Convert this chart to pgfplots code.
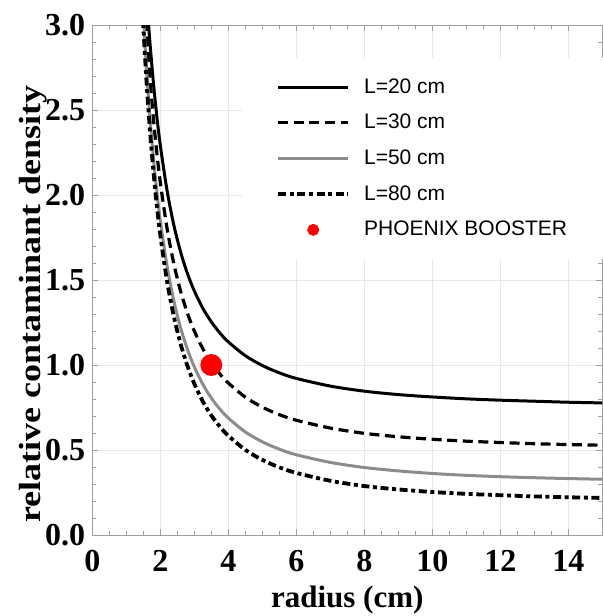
\documentclass[border=0pt]{standalone}
\usepackage{fontspec}
\setmainfont{Liberation Serif}
\setsansfont{Liberation Sans}
\usepackage{graphicx}
\usepackage{pgfplots}
\pgfplotsset{compat=1.18}

\begin{document}
\begin{tikzpicture}
\useasboundingbox (-46.15pt,-40.5pt) rectangle (255.3pt,267.5pt);
\begin{axis}[
  scale only axis, width=255pt, height=255pt,
  xmin=0, xmax=15, ymin=0, ymax=3,
  xtick={0,2,...,14}, ytick={0,0.5,...,3},
  minor x tick num=3, minor y tick num=4,
  grid=major, major grid style={gray!18, line width=0.5pt},
  axis line style={gray!75, line width=0.5pt},
  tick style={gray!75, line width=0.4pt},
  major tick length=3pt, minor tick length=2pt,
  tick align=inside,
  /pgf/number format/assume math mode=true,
  ticklabel style={font=\fontsize{16}{18}\selectfont\bfseries},
  xticklabel style={yshift=-4pt},
  yticklabel style={/pgf/number format/.cd, fixed, fixed zerofill, precision=1},
  xlabel style={font=\fontsize{15.5}{18}\selectfont\bfseries,
    at={(axis description cs:0.5,-0.128)}, anchor=center},
  ylabel style={font=\fontsize{18}{20}\selectfont\bfseries,
    at={(axis description cs:-0.115,0.453)}, anchor=center},
  xlabel={radius (cm)},
  ylabel={\scalebox{1}[0.85]{relative contaminant density}},
  legend cell align=left,
  legend style={at={(axis cs:4.4,2.806)}, anchor=north west, draw=none, fill=white,
    font=\fontsize{10.5}{12}\selectfont\sffamily, row sep=5pt,
    inner xsep=17pt, inner ysep=8pt},
  legend image code/.code={\draw[#1] (0pt,0pt) -- (35pt,0pt); \path (40pt,0pt);},
  every axis plot/.append style={line width=1.5pt, smooth},
]
% L = 20 cm
\addplot[black] coordinates {
(1.65,3.016) (1.7,2.885) (1.8,2.654) (1.9,2.459) (2.0,2.293) (2.2,2.025)
(2.4,1.821) (2.6,1.663) (2.8,1.537) (3.0,1.436) (3.25,1.334) (3.5,1.254)
(3.75,1.189) (4,1.136) (4.5,1.055) (5,0.997) (5.5,0.954) (6,0.921)
(7,0.876) (8,0.846) (9,0.826) (10,0.812) (11,0.801) (12,0.793)
(13,0.787) (14,0.781) (15,0.777)
};
% L = 30 cm
\addplot[black, line width=1.6pt, dash pattern=on 5pt off 2.8pt] coordinates {
(1.58,3.024) (1.6,2.961) (1.7,2.680) (1.8,2.444) (1.9,2.245) (2.0,2.075)
(2.2,1.802) (2.4,1.594) (2.6,1.432) (2.8,1.304) (3.0,1.200) (3.25,1.096)
(3.5,1.014) (3.75,0.948) (4,0.894) (4.5,0.811) (5,0.752) (5.5,0.708)
(6,0.675) (7,0.629) (8,0.598) (9,0.578) (10,0.563) (11,0.552)
(12,0.544) (13,0.537) (14,0.532) (15,0.528)
};
% L = 50 cm
\addplot[gray!90] coordinates {
(1.51,3.019) (1.6,2.722) (1.7,2.445) (1.8,2.214) (1.9,2.017) (2.0,1.850)
(2.2,1.581) (2.4,1.376) (2.6,1.217) (2.8,1.091) (3.0,0.989) (3.25,0.887)
(3.5,0.806) (3.75,0.741) (4,0.688) (4.5,0.606) (5,0.548) (5.5,0.505)
(6,0.472) (7,0.427) (8,0.397) (9,0.377) (10,0.362) (11,0.351)
(12,0.343) (13,0.337) (14,0.332) (15,0.328)
};
% L = 80 cm
\addplot[black, line width=1.9pt, dash pattern=on 4pt off 1.8pt on 2pt off 1.8pt] coordinates {
(1.49,3.028) (1.5,2.990) (1.6,2.651) (1.7,2.370) (1.8,2.134) (1.9,1.935)
(2.0,1.765) (2.2,1.492) (2.4,1.284) (2.6,1.122) (2.8,0.994) (3.0,0.890)
(3.25,0.786) (3.5,0.704) (3.75,0.638) (4,0.584) (4.5,0.501) (5,0.442)
(5.5,0.398) (6,0.365) (7,0.319) (8,0.288) (9,0.268) (10,0.253)
(11,0.242) (12,0.234) (13,0.227) (14,0.222) (15,0.218)
};
% PHOENIX BOOSTER
\addplot[only marks, mark=*, mark size=4.7pt, mark options={draw=red, fill=red},
  legend image code/.code={\fill[red] (17.5pt,0pt) circle (2.2pt); \path (40pt,0pt);}]
  coordinates {(3.5,1.0)};
\legend{L=20 cm, L=30 cm, L=50 cm, L=80 cm, PHOENIX BOOSTER}
\end{axis}
\end{tikzpicture}
\end{document}
